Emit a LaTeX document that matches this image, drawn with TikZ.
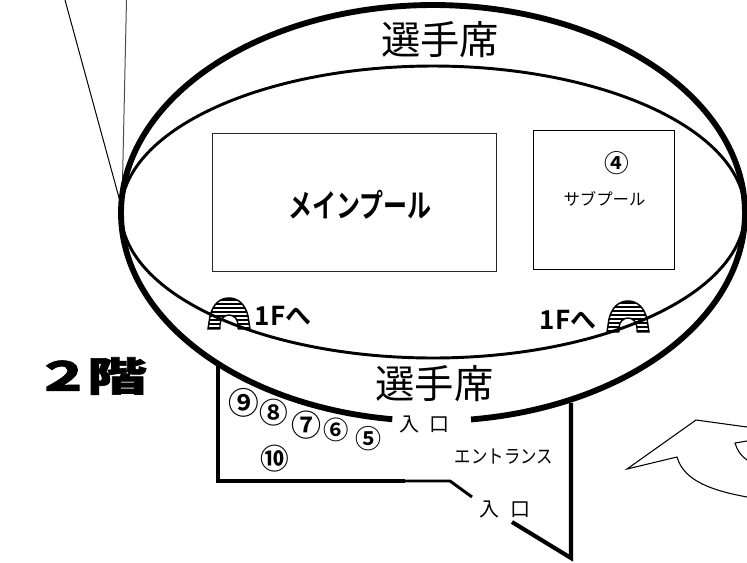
\documentclass[tikz,border=0pt]{standalone}
\usepackage{fontspec}
\setmainfont[BoldFont={Noto Sans CJK JP Bold}]{Noto Sans CJK JP}
\newfontfamily\heavy[BoldFeatures={FakeBold=1.5}]{Noto Sans CJK JP}
\newcommand{\pxfont}[1]{\fontsize{#1}{#1}\selectfont}
\tikzset{
  x=0.75pt,y=-0.75pt,
  bigwall/.style={line width=4.4pt,line join=miter},
  wall/.style={line width=3.1pt,line join=miter},
  thin line/.style={line width=0.75pt},
  inner ring/.style={line width=2.2pt},
  lbl/.style={inner sep=0pt,outer sep=0pt,anchor=center},
  num/.style={lbl,font=\bfseries},
  stairs/.style={line width=1.1pt}
}
\newcommand{\stairicon}[1]{%
  \begin{scope}[shift={#1}]
    \begin{scope}
      \clip (0,31) -- (2,18) .. controls (5,6) and (12,0) .. (21,0) .. controls (30,0) and (37,6) .. (40,18) -- (42,31) -- cycle;
      \foreach \yy in {1,5,...,33}{\fill[black] (-1,\yy) rectangle (43,\yy+2.2);}
    \end{scope}
    \draw[stairs,fill=white] (12,31) -- (12,27) .. controls (12,21) and (16,17) .. (21,17) .. controls (26,17) and (30,21) .. (30,27) -- (30,31);
    \draw[stairs] (12,31) -- (0,31) -- (2,18) .. controls (5,6) and (12,0) .. (21,0) .. controls (30,0) and (37,6) .. (40,18) -- (42,31) -- (30,31);
  \end{scope}}
\begin{document}
\begin{tikzpicture}
\useasboundingbox (0,0) rectangle (747,562);
% guide lines
\draw[thin line] (65,0) -- (121,205);
\draw[thin line,black!70] (126.5,0) -- (122,205);
% pools
\draw[thin line,black!85] (212,133) rectangle (496,271);
\draw[line width=0.9pt] (533.5,130.5) rectangle (674.5,269.5);
% stairs
\stairicon{(208,298)}
\stairicon{(607,301)}
% inner ellipse
\draw[inner ring] plot[domain=0:360,samples=240,smooth] ({433+312*cos(\x)},{212+146*sin(\x)});
% outer ellipse with gap
\draw[bigwall] plot[domain=97.5:443,samples=300,smooth] ({433+312*cos(\x)},{213+208*sin(\x)});
% entrance walls
\draw[wall] (218,365) -- (218,481) -- (405,481);
\draw[line width=2.2pt] (405,481) -- (450,481) -- (472,497);
\draw[wall] (512,522) -- (571,558) -- (571,403);
% arrow
\draw[line width=0.8pt] (747,427) -- (696,420) -- (627,469) -- (677,457) .. controls (684,482) and (715,491) .. (747,497);
\draw[line width=0.8pt] (747,441) -- (735,443) .. controls (737,450) and (741,456) .. (747,460);
% labels
\node[lbl] (seatT) at (440,40) {\pxfont{29.5}選手席};
\node[lbl] (seatB) at (434.5,384) {\pxfont{29.5}選手席};
\node[lbl] (main) at (360,205) {\scalebox{.75}[1]{\bfseries\pxfont{24}メインプール}};
\node[lbl] (sub) at (604.5,199) {\pxfont{12.3}サブプール};
\node[num] (n4) at (617,163) {\pxfont{18.5}④};
\node[lbl] (up1) at (283,316) {\bfseries\pxfont{19.5}1Fへ};
\node[lbl] (up2) at (568,320) {\bfseries\pxfont{19.5}1Fへ};
\node[lbl] (floor) at (91,376) {\heavy\bfseries\pxfont{30}\scalebox{1.4}[1]{２}\kern-3pt\scalebox{1.5}[1]{階}};
\node[num] (n9) at (244,403) {\pxfont{23}⑨};
\node[num] (n8) at (274,413) {\pxfont{21.5}⑧};
\node[num] (n7) at (306,425) {\pxfont{22.5}⑦};
\node[num] (n6) at (336,430) {\pxfont{19}⑥};
\node[num] (n5) at (368,439) {\pxfont{19.5}⑤};
\node[num] (n10) at (275,459) {\pxfont{21.5}⑩};
\node[lbl] (in1) at (424.5,424) {\pxfont{15}入\kern8pt 口};
\node[lbl] (in2) at (505,509) {\pxfont{15}入\kern8pt 口};
\node[lbl] (ent) at (504,457) {\scalebox{1}[1.15]{\pxfont{12.3}エントランス}};
\end{tikzpicture}
\end{document}
